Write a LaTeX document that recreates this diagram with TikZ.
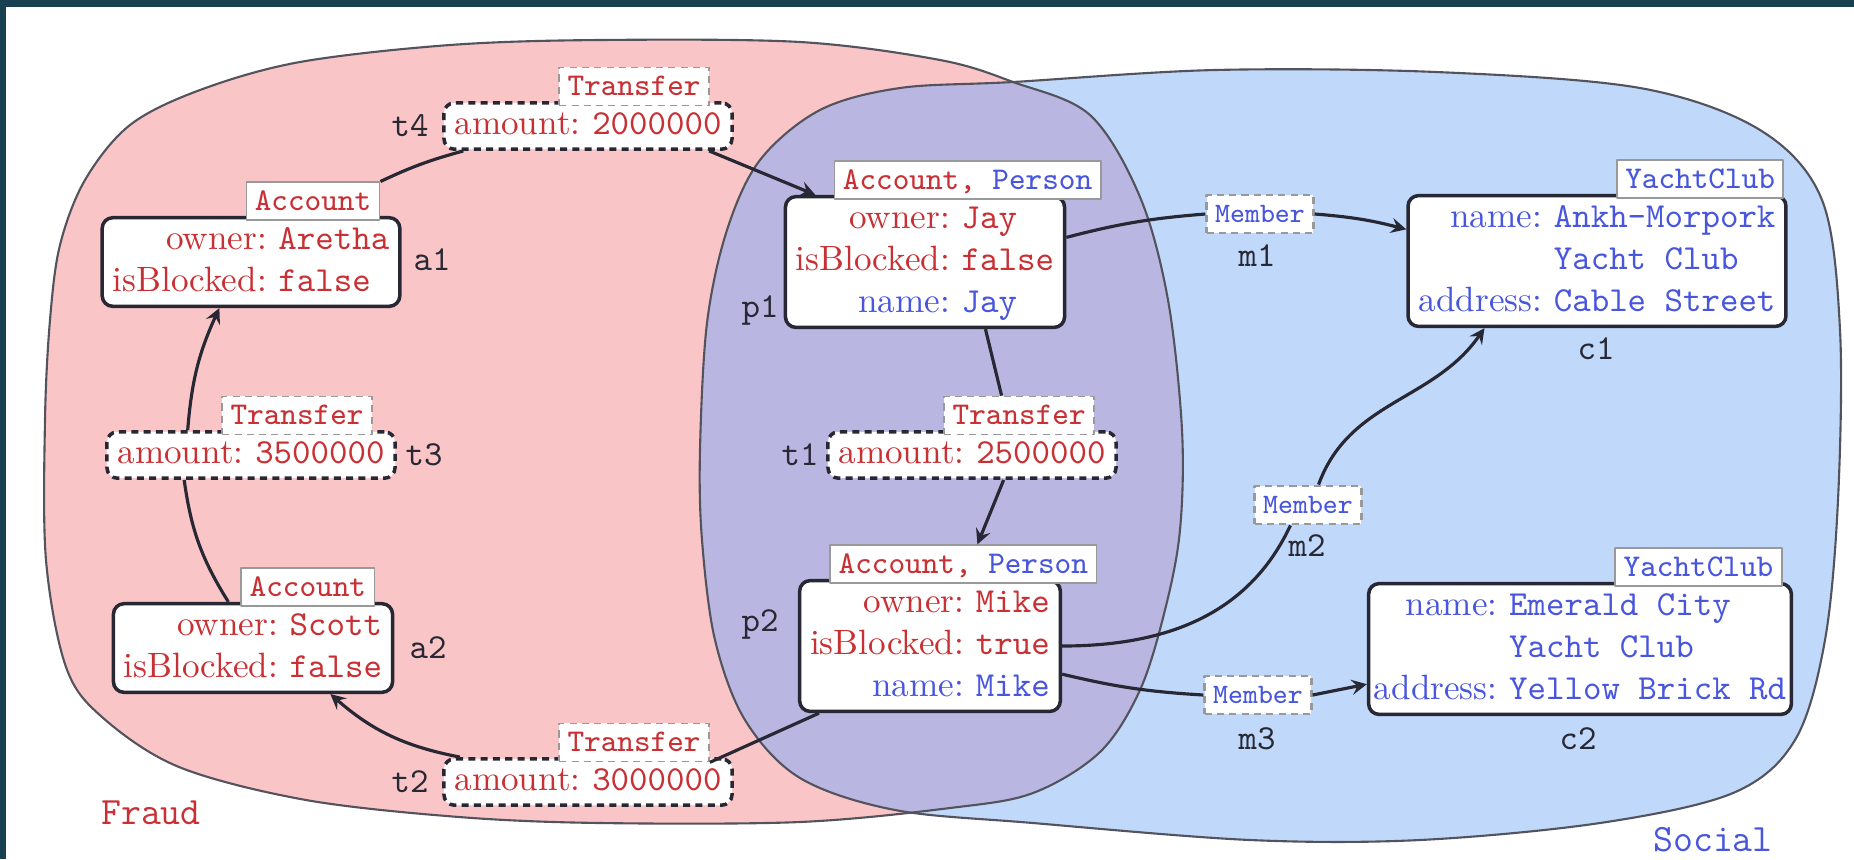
\documentclass[tikz,border=0pt]{standalone}
\usetikzlibrary{arrows}
\definecolor{acc}{RGB}{200,48,52}
\definecolor{per}{RGB}{72,86,222}
\definecolor{fraudbg}{RGB}{250,197,199}
\definecolor{socialbg}{RGB}{192,216,250}
\definecolor{bothbg}{RGB}{186,182,226}
\definecolor{frameA}{RGB}{24,64,80}
\definecolor{frameB}{RGB}{44,100,98}
\definecolor{ink}{RGB}{40,40,52}
\newcommand{\ak}[2]{\textcolor{acc}{#1} & \textcolor{acc}{\texttt{#2}}}
\newcommand{\pk}[2]{\textcolor{per}{#1} & \textcolor{per}{\texttt{#2}}}
\newcommand{\fraudblob}{plot[smooth cycle,tension=.55] coordinates {(50,539) (60,614) (85,679) (130,734) (200,769) (300,797) (450,814) (600,819) (800,817) (940,799) (1013,777) (1090,744) (1140,662) (1168,559) (1182,429) (1180,329) (1165,249) (1140,169) (1100,107) (1033,66) (950,51) (800,37) (600,36) (459,42) (306,59) (179,92) (102,142) (66,192) (46,299) (45,439)}}
\newcommand{\socialblob}{plot[smooth cycle,tension=.55] coordinates {(700,409) (707,536) (727,629) (760,699) (820,749) (900,771) (1013,777) (1215,789) (1436,787) (1640,771) (1760,729) (1822,659) (1840,529) (1838,359) (1825,219) (1795,119) (1733,66) (1600,36) (1420,19) (1250,19) (1033,36) (895,49) (800,81) (745,139) (715,219) (702,319)}}
\begin{document}
\begin{tikzpicture}[x=0.01cm,y=0.01cm,>=stealth,line join=round,
	obj/.style={draw=ink,line width=1pt,rounded corners=3pt,fill=white,inner xsep=3pt,inner ysep=0.6pt},
	rel/.style={obj,dash pattern=on 2pt off 1.5pt},
	tag/.style={draw=gray!80,line width=0.5pt,fill=white,font=\small\ttfamily,inner xsep=2.4pt,inner ysep=1.4pt,text height=6.5pt,text depth=1.5pt,anchor=south east},
	rtag/.style={tag,dash pattern=on 2pt off 1.5pt},
	mem/.style={rtag,anchor=center,font=\footnotesize\ttfamily,text=per,line width=0.8pt},
	lbl/.style={font=\ttfamily,text=ink},
	link/.style={draw=ink,line width=0.9pt}]
	\useasboundingbox (0,0) rectangle (1854,859);
	\fill[white] (0,0) rectangle (1854,859);
	\shade[left color=frameA,middle color=frameB,right color=frameA] (0,853) rectangle (1854,859);
	\fill[frameA] (0,0) rectangle (6,859);
	% the two groups
	\fill[fraudbg] \fraudblob;
	\fill[socialbg] \socialblob;
	\begin{scope}
		\clip \fraudblob;
		\fill[bothbg] \socialblob;
	\end{scope}
	\draw[ink!80,line width=0.6pt] \fraudblob;
	\draw[ink!80,line width=0.6pt] \socialblob;
	\node[lbl,text=acc,font=\fontsize{11}{13}\selectfont\ttfamily] (fraud) at (151,46) {Fraud};
	\node[lbl,text=per,font=\fontsize{11}{13}\selectfont\ttfamily] (social) at (1713,19) {Social};
	% accounts
	\node[obj] (a1) at (251,597) {\begin{tabular}{@{}r@{\ }l@{}}\ak{owner:}{Aretha}\\\ak{isBlocked:}{false}\end{tabular}};
	\node[tag] (a1tag) at ([xshift=-6pt,yshift=-1.5pt]a1.north east) {\textcolor{acc}{Account}};
	\node[lbl] (a1lbl) at (432,599) {a1};
	\node[obj] (a2) at (253,211) {\begin{tabular}{@{}r@{\ }l@{}}\ak{owner:}{Scott}\\\ak{isBlocked:}{false}\end{tabular}};
	\node[tag] (a2tag) at ([xshift=-5.4pt,yshift=-1.5pt]a2.north east) {\textcolor{acc}{Account}};
	\node[lbl] (a2lbl) at (428,211) {a2};
	\node[obj] (p1) at (925,597) {\begin{tabular}{@{}r@{\ }l@{}}\ak{owner:}{Jay}\\\ak{isBlocked:}{false}\\\pk{name:}{Jay}\end{tabular}};
	\node[tag] (p1tag) at ([xshift=10pt,yshift=-1.5pt]p1.north east) {\textcolor{acc}{Account,} \textcolor{per}{Person}};
	\node[lbl] (p1lbl) at (760,549) {p1};
	\node[obj] (p2) at (930,213) {\begin{tabular}{@{}r@{\ }l@{}}\ak{owner:}{Mike}\\\ak{isBlocked:}{true}\\\pk{name:}{Mike}\end{tabular}};
	\node[tag] (p2tag) at ([xshift=10pt,yshift=-1.5pt]p2.north east) {\textcolor{acc}{Account,} \textcolor{per}{Person}};
	\node[lbl] (p2lbl) at (760,235) {p2};
	% clubs
	\node[obj] (c1) at (1597,598) {\begin{tabular}{@{}r@{\ }l@{}}\pk{name:}{Ankh-Morpork}\\ & \textcolor{per}{\texttt{Yacht Club}}\\\pk{address:}{Cable Street}\end{tabular}};
	\node[tag] (c1tag) at ([xshift=-1pt,yshift=-1.5pt]c1.north east) {\textcolor{per}{YachtClub}};
	\node[lbl] (c1lbl) at (1596,510) {c1};
	\node[obj,inner xsep=1.5pt] (c2) at (1580,210) {\begin{tabular}{@{}r@{\ }l@{}}\pk{name:}{Emerald City}\\ & \textcolor{per}{\texttt{Yacht Club}}\\\pk{address:}{Yellow Brick Rd}\end{tabular}};
	\node[tag] (c2tag) at ([xshift=-3pt,yshift=-1.5pt]c2.north east) {\textcolor{per}{YachtClub}};
	\node[lbl] (c2lbl) at (1578,120) {c2};
	% transfers
	\node[rel] (t4) at (588,733) {\begin{tabular}{@{}r@{\ }l@{}}\ak{amount:}{2000000}\end{tabular}};
	\node[rtag] (t4tag) at ([xshift=-6.8pt,yshift=-1.5pt]t4.north east) {\textcolor{acc}{Transfer}};
	\node[lbl] (t4lbl) at (410,733) {t4};
	\node[rel] (t3) at (251,404) {\begin{tabular}{@{}r@{\ }l@{}}\ak{amount:}{3500000}\end{tabular}};
	\node[rtag] (t3tag) at ([xshift=-6.8pt,yshift=-1.5pt]t3.north east) {\textcolor{acc}{Transfer}};
	\node[lbl] (t3lbl) at (424,404) {t3};
	\node[rel] (t2) at (588,77) {\begin{tabular}{@{}r@{\ }l@{}}\ak{amount:}{3000000}\end{tabular}};
	\node[rtag] (t2tag) at ([xshift=-6.8pt,yshift=-1.5pt]t2.north east) {\textcolor{acc}{Transfer}};
	\node[lbl] (t2lbl) at (410,77) {t2};
	\node[rel] (t1) at (972,404) {\begin{tabular}{@{}r@{\ }l@{}}\ak{amount:}{2500000}\end{tabular}};
	\node[rtag] (t1tag) at ([xshift=-6.5pt,yshift=-1.5pt]t1.north east) {\textcolor{acc}{Transfer}};
	\node[lbl] (t1lbl) at (800,404) {t1};
	% memberships
	\node[mem] (m1) at (1260,645) {Member};
	\node[lbl] (m1lbl) at (1257,603) {m1};
	\node[mem] (m2) at (1308,354) {Member};
	\node[lbl] (m2lbl) at (1307,313) {m2};
	\node[mem] (m3) at (1258,164) {Member};
	\node[lbl] (m3lbl) at (1257,120) {m3};
	% connectors
	\draw[link] (a1tag.north east) to[bend left=5] ([xshift=6pt]t4.south west);
	\draw[link,->] ([xshift=-7pt]t4.south east) -- ([xshift=9pt]p1.north west);
	\draw[link] (p1.-48) -- ([xshift=-5pt]t1tag.north);
	\draw[link,->] ([xshift=9pt]t1.south) -- ([xshift=4pt]p2tag.north);
	\draw[link] ([xshift=6pt]p2.south west) -- (t2tag.south east);
	\draw[link,->] ([xshift=5pt]t2.north west) to[bend left=15] ([xshift=22pt]a2.south);
	\draw[link] ([xshift=-7pt]a2.north) to[bend left=12] ([xshift=-19pt]t3.south);
	\draw[link,->] ([xshift=-18pt]t3.north) to[bend left=10] ([xshift=-9pt]a1.south);
	\draw[link] ([yshift=7pt]p1.east) to[bend left=5] (m1.west);
	\draw[link,->] (m1.east) to[bend left=5] ([yshift=9pt]c1.west);
	\draw[link] (p2.east) to[out=0,in=-115] ([xshift=-5pt]m2.south);
	\draw[link,->] ([xshift=3pt]m2.north) to[out=70,in=-125] ([xshift=-32pt]c1.south);
	\draw[link] ([yshift=-8pt]p2.east) to[bend right=5] (m3.west);
	\draw[link,->] (m3.east) -- ([yshift=-10pt]c2.west);
\end{tikzpicture}
\end{document}
